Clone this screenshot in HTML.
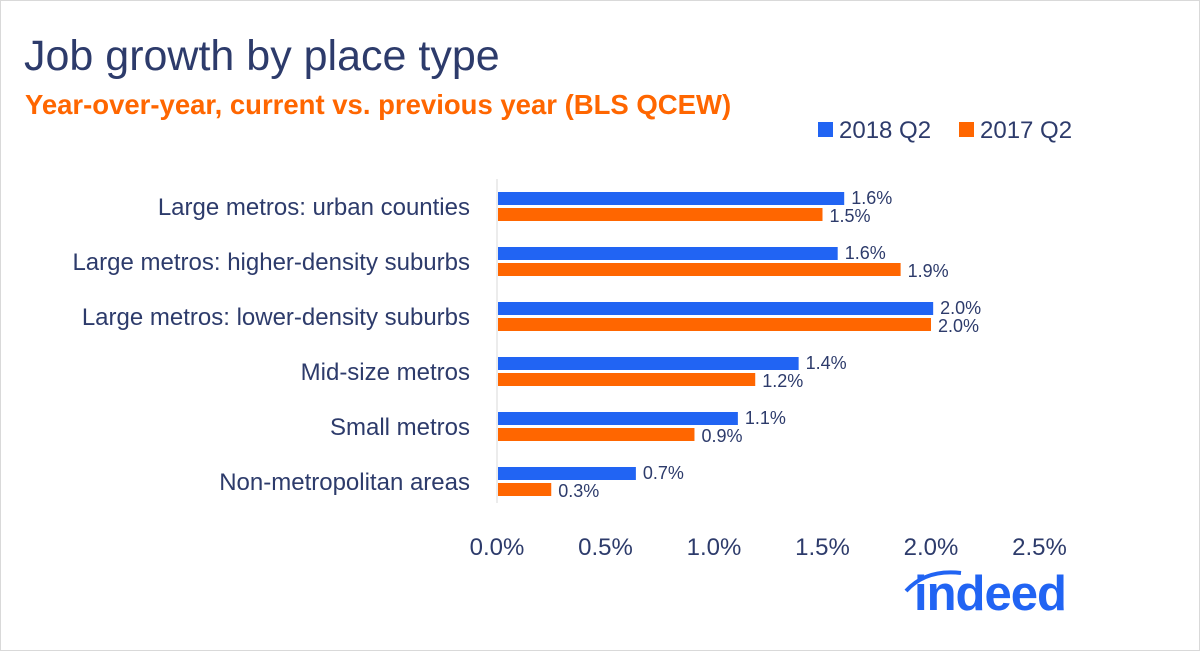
<!DOCTYPE html>
<html><head><meta charset="utf-8"><style>
body{margin:0;background:#fff;}
.wrap{position:relative;width:1198px;height:649px;border:1px solid #d9d9d9;background:#fff;font-family:"Liberation Sans",sans-serif;overflow:hidden}
.t{position:absolute;white-space:nowrap}
</style></head><body>
<div class="wrap">
<div class="t" style="left:23px;top:31px;font-size:43px;color:#2d3b6b;">Job growth by place type</div>
<div class="t" style="left:24px;top:88px;font-size:27.5px;font-weight:bold;color:#ff6600;">Year-over-year, current vs. previous year (BLS QCEW)</div>
<svg id="chart" width="1198" height="649" style="position:absolute;left:0;top:0"></svg>
</div>
<script>
const categories=["Large metros: urban counties","Large metros: higher-density suburbs","Large metros: lower-density suburbs","Mid-size metros","Small metros","Non-metropolitan areas"];
const series2018=[1.60,1.57,2.01,1.39,1.11,0.64];
const series2017=[1.50,1.86,2.00,1.19,0.91,0.25];
const labels2018=["1.6%","1.6%","2.0%","1.4%","1.1%","0.7%"];
const labels2017=["1.5%","1.9%","2.0%","1.2%","0.9%","0.3%"];
const ticks=[0,0.5,1.0,1.5,2.0,2.5];
const tickLabels=["0.0%","0.5%","1.0%","1.5%","2.0%","2.5%"];
const NS="http://www.w3.org/2000/svg";
const svg=document.getElementById('chart');
const x0=496, sc=217;
const xs=v=>x0+v*sc;
const yc=i=>205+i*55;
function mk(tag,attrs,text){const e=document.createElementNS(NS,tag);for(const k in attrs)e.setAttribute(k,attrs[k]);if(text!=null)e.textContent=text;svg.appendChild(e);return e;}
const F='"Liberation Sans",sans-serif';
let ax=mk('line',{x1:x0,x2:x0,y1:178,y2:502,stroke:'#d9d9d9','stroke-width':1});


ticks.forEach((t,i)=>{
 let e=mk('text',{x:xs(t),y:554,'text-anchor':'middle','font-family':F,'font-size':24,fill:'#2d3b6b'},tickLabels[i]);
 
 
});
categories.forEach((c,i)=>{
 let e=mk('text',{x:469,y:yc(i)+9,'text-anchor':'end','font-family':F,'font-size':24,fill:'#2d3b6b'},c);
 
 
 let b=mk('rect',{x:x0+1,y:yc(i)-14,width:xs(series2018[i])-x0-1,height:13,fill:'#2164f3'});
 
 
 let o=mk('rect',{x:x0+1,y:yc(i)+2,width:xs(series2017[i])-x0-1,height:13,fill:'#ff6600'});
 
 
 let l1=mk('text',{x:xs(series2018[i])+7,y:yc(i)-2,'font-family':F,'font-size':18,fill:'#2d3b6b'},labels2018[i]);
 
 
 let l2=mk('text',{x:xs(series2017[i])+7,y:yc(i)+16,'font-family':F,'font-size':18,fill:'#2d3b6b'},labels2017[i]);
 
 
});
let s1=mk('rect',{x:817,y:121,width:15,height:15,fill:'#2164f3'});


let t1=mk('text',{x:838,y:137,'font-family':F,'font-size':24,fill:'#2d3b6b'},'2018 Q2');


let s2=mk('rect',{x:958,y:121,width:15,height:15,fill:'#ff6600'});


let t2=mk('text',{x:979,y:137,'font-family':F,'font-size':24,fill:'#2d3b6b'},'2017 Q2');


let arc=mk('path',{d:'M905 590 Q925 568 960 572',stroke:'#2164f3','stroke-width':4,fill:'none'});


let logo=mk('text',{x:913,y:609,'font-family':F,'font-size':49,'font-weight':'bold',fill:'#2164f3','letter-spacing':'-1'},'indeed');


</script>
</body></html>
